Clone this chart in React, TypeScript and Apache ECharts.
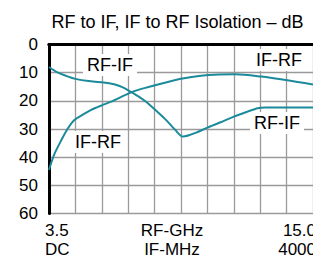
import React, { useEffect, useRef } from "react";
import * as echarts from "echarts";

const titleText = "RF to IF, IF to RF Isolation – dB";
const yTicks = [0, 10, 20, 30, 40, 50, 60];
const rfRowLabels = ["3.5", "RF-GHz", "15.0"];
const ifRowLabels = ["DC", "IF-MHz", "4000"];

// x in grid divisions (0..10), y in dB (inverted axis)
const rfIfX = [0, 0.3, 0.7, 1.0, 1.5, 2.0, 2.5, 2.8, 3.1, 3.4, 3.7, 4.0, 4.4, 4.8, 5.05, 5.3, 5.6, 6.0, 6.5, 7.0, 7.5, 7.9, 8.2, 9.0, 10];
const rfIfY = [8.0, 9.8, 11.3, 12.2, 13.0, 13.4, 14.2, 15.2, 16.8, 18.5, 20.5, 23.0, 26.5, 30.5, 32.7, 32.2, 31.2, 29.5, 27.6, 25.6, 23.9, 22.6, 22.4, 22.4, 22.4];
const ifRfX = [0, 0.2, 0.47, 0.7, 0.96, 1.3, 1.58, 2.0, 2.33, 3.11, 3.8, 4.2, 5.06, 6.05, 7.05, 8.04, 9.03, 10];
const ifRfY = [44.5, 39.0, 33.9, 30.0, 26.8, 24.8, 23.3, 21.6, 20.4, 17.0, 15.0, 14.0, 12.1, 10.8, 10.6, 11.4, 12.7, 14.2];

const curveLabels = [
  { text: "RF-IF", x: 110, y: 65 },
  { text: "IF-RF", x: 279, y: 60 },
  { text: "RF-IF", x: 277, y: 123 },
  { text: "IF-RF", x: 98, y: 142 },
];

const FONT = "'Liberation Sans', Arial, Helvetica, sans-serif";
const CURVE = "#1b8a9b";

export default function App() {
  const ref = useRef<HTMLDivElement>(null);
  useEffect(() => {
    if (!ref.current) return;
    const chart = echarts.init(ref.current, undefined, { renderer: "svg" });
    const toPairs = (xs: number[], ys: number[]) => xs.map((x, i) => [x, ys[i]]);
    const gridLine = { show: true, lineStyle: { color: "#9a9a9a", width: 1.3 } };
    const rowX = [45, 172, 316];
    const rowAlign = ["left", "center", "right"];
    const graphic: any[] = [
      {
        type: "text",
        x: 177.5,
        y: 21.5,
        style: { text: titleText, font: `18px ${FONT}`, fill: "#000", align: "center", verticalAlign: "middle" },
      },
    ];
    rfRowLabels.forEach((t, i) =>
      graphic.push({
        type: "text",
        x: rowX[i],
        y: 230,
        style: { text: t, font: `17px ${FONT}`, fill: "#000", align: rowAlign[i], verticalAlign: "middle" },
      })
    );
    ifRowLabels.forEach((t, i) =>
      graphic.push({
        type: "text",
        x: rowX[i],
        y: 249,
        style: { text: t, font: `17px ${FONT}`, fill: "#000", align: rowAlign[i], verticalAlign: "middle" },
      })
    );
    curveLabels.forEach((l) =>
      graphic.push({
        type: "text",
        x: l.x,
        y: l.y,
        z: 10,
        style: {
          text: l.text,
          font: `18px ${FONT}`,
          fill: "#000",
          align: "center",
          verticalAlign: "middle",
          backgroundColor: "#fff",
          padding: [2, 4],
        },
      })
    );
    chart.setOption({
      animation: false,
      backgroundColor: "#fff",
      grid: { left: 49, top: 44.5, width: 267, height: 169 },
      xAxis: [
        {
          type: "value",
          min: 0,
          max: 10,
          interval: 1,
          axisLabel: { show: false },
          axisTick: { show: false },
          axisLine: { show: true, lineStyle: { color: "#000", width: 3 } },
          splitLine: gridLine,
        },
        {
          type: "value",
          position: "top",
          min: 0,
          max: 10,
          interval: 1,
          axisLabel: { show: false },
          axisTick: { show: false },
          axisLine: { show: true, lineStyle: { color: "#000", width: 3 } },
          splitLine: { show: false },
        },
      ],
      yAxis: {
        type: "value",
        inverse: true,
        min: yTicks[0],
        max: yTicks[yTicks.length - 1],
        interval: 10,
        axisTick: { show: false },
        axisLine: { show: true, lineStyle: { color: "#000", width: 3 } },
        axisLabel: { color: "#000", fontSize: 17, fontFamily: FONT, margin: 11 },
        splitLine: gridLine,
      },
      series: [
        {
          type: "line",
          data: toPairs(rfIfX, rfIfY),
          smooth: 0.2,
          symbol: "none",
          lineStyle: { color: CURVE, width: 2 },
        },
        {
          type: "line",
          data: toPairs(ifRfX, ifRfY),
          smooth: 0.3,
          symbol: "none",
          lineStyle: { color: CURVE, width: 2 },
        },
      ],
      graphic,
    });
    return () => chart.dispose();
  }, []);
  return <div ref={ref} style={{ position: "absolute", left: 0, top: 0, width: 313, height: 258 }} />;
}
